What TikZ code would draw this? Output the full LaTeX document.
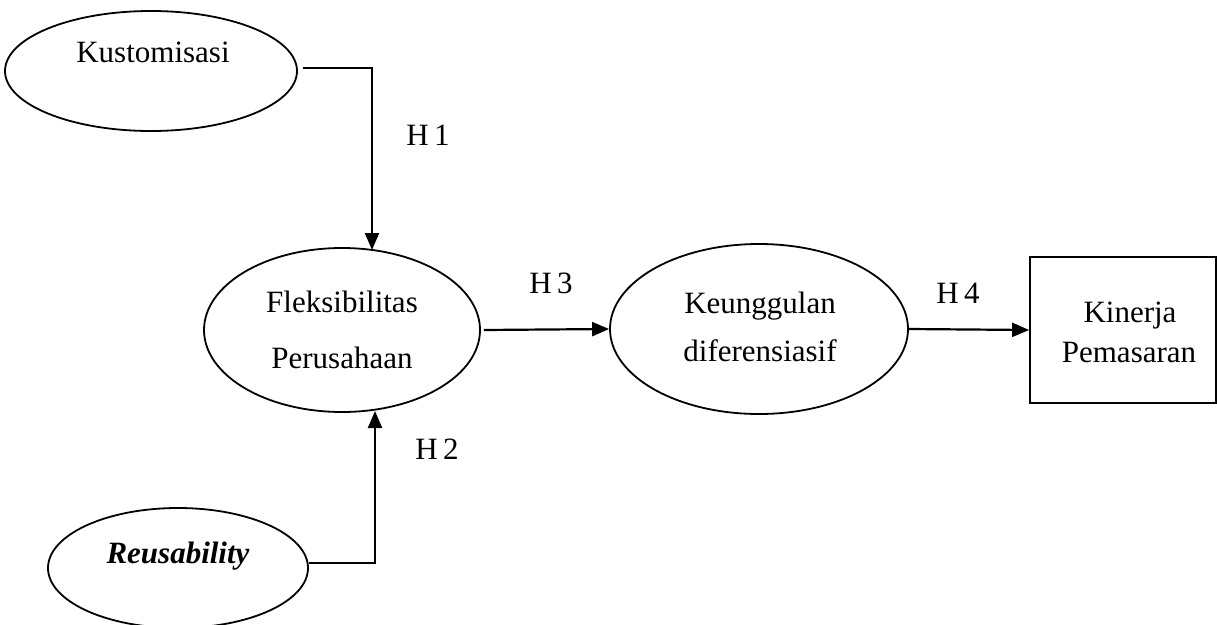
\documentclass[tikz,border=0pt]{standalone}
\usepackage{fontspec}
\setmainfont{Liberation Serif}
\usetikzlibrary{shapes.geometric,arrows.meta}
\begin{document}
\begin{tikzpicture}[x=1pt,y=-1pt,
  construct/.style={draw, ellipse, line width=1.8pt, inner sep=0pt},
  outcome/.style={draw, rectangle, line width=1.8pt, inner sep=0pt},
  txt/.style={font=\fontsize{31}{37}\selectfont, inner sep=0pt, anchor=base},
  conn/.style={line width=2.2pt},
  arr/.style={conn, -{Triangle[length=17pt,width=14pt]}}]
\useasboundingbox (0,0) rectangle (1217,624);

% constructs
\node[construct, minimum width=292pt, minimum height=120pt] (kus) at (151,71) {};
\node[construct, minimum width=276pt, minimum height=164pt] (flex) at (342,330) {};
\node[construct, minimum width=298pt, minimum height=170pt] (keung) at (759,329) {};
\node[construct, minimum width=260pt, minimum height=120pt] (reu) at (178,568) {};
\node[outcome, minimum width=186pt, minimum height=146pt] (kin) at (1123,330) {};

% texts
\node[txt] (tkus) at (153,62) {Kustomisasi};
\node[txt] (tflex1) at (342,312) {Fleksibilitas};
\node[txt] (tflex2) at (342,368) {Perusahaan};
\node[txt] (tkeu1) at (760,313) {Keunggulan};
\node[txt] (tkeu2) at (760,361) {diferensiasif};
\node[txt] (tkin1) at (1130,322) {Kinerja};
\node[txt] (tkin2) at (1129,362) {Pemasaran};
\node[txt] (treu) at (178,563) {\bfseries\itshape Reusability};

% hypothesis labels
\node[txt] (h1) at (428,145) {H\,1};
\node[txt] (h2) at (437,459) {H\,2};
\node[txt] (h3) at (551,293) {H\,3};
\node[txt] (h4) at (958,303) {H\,4};

% connectors
\coordinate (f1) at (372,250);
\coordinate (f2) at (375,411);
\draw[arr] ([shift={(5,-3)}]kus.east) -| (f1);
\draw[arr] ([shift={(0,-5)}]reu.east) -| (f2);
\draw[arr] ([xshift=3pt]flex.east) -- (keung.west);
\draw[arr] (keung.east) -- (kin.west);
\end{tikzpicture}
\end{document}
